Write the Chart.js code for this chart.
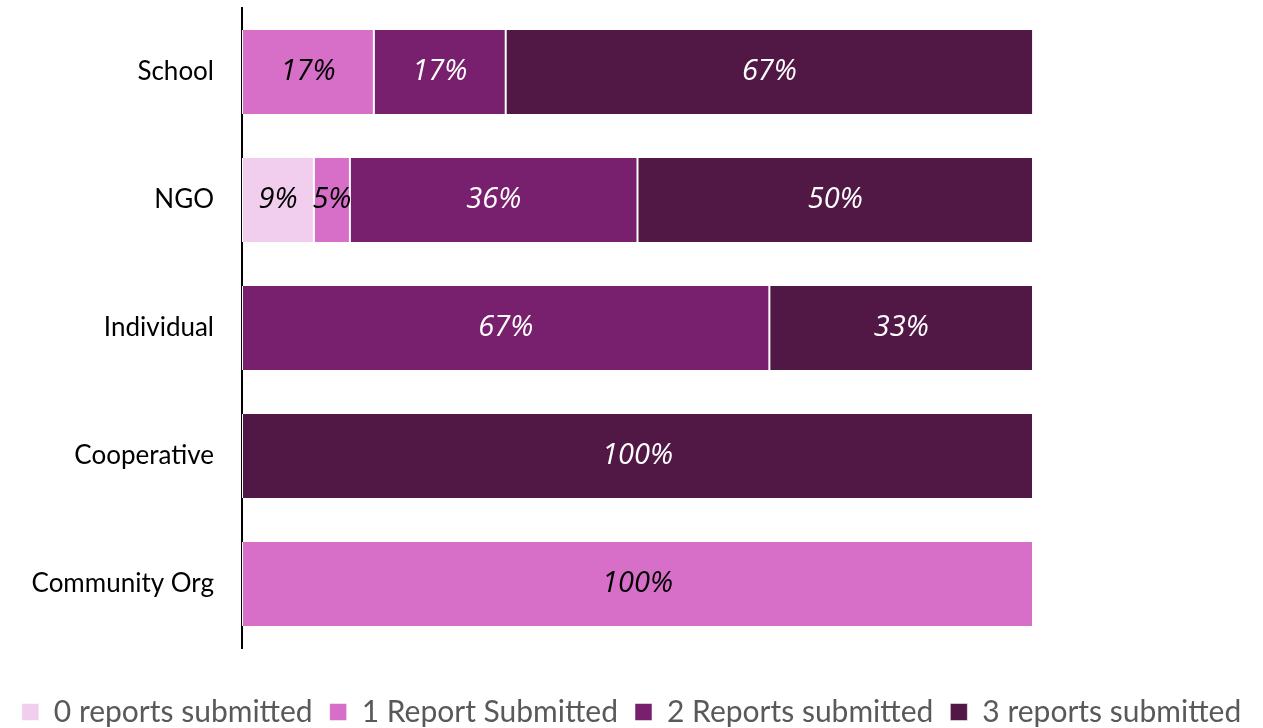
<!DOCTYPE html>
<html>
<head>
<meta charset="utf-8">
<script src="https://cdn.jsdelivr.net/npm/chart.js@4.4.1/dist/chart.umd.min.js"></script>
<style>
  html, body { margin: 0; padding: 0; background: #fff; }
  #wrap { width: 1263px; height: 728px; }
</style>
</head>
<body>
<div id="wrap"><canvas id="grafico"></canvas></div>
<script>
// Categorias e percentuais por número de relatórios enviados
const categorias = ['School', 'NGO', 'Individual', 'Cooperative', 'Community Org'];
const zeroRelatorios = [0, 9.09, 0, 0, 0];
const umRelatorio = [16.67, 4.55, 0, 0, 100];
const doisRelatorios = [16.67, 36.36, 66.67, 0, 0];
const tresRelatorios = [66.67, 50, 33.33, 100, 0];
const nomesSeries = ['0 reports submitted', '1 Report Submitted', '2 Reports submitted', '3 reports submitted'];

const cores = ['#f2ceee', '#d76fc9', '#78206d', '#511846'];
const corTexto = ['#000', '#000', '#fff', '#fff'];

// Plugin simples para escrever os percentuais dentro das barras
const rotulosPlugin = {
    id: 'rotulos',
    afterDatasetsDraw(chart) {
        const ctx = chart.ctx;
        ctx.save();
        ctx.font = 'italic 29px "Open Sans"';
        ctx.textAlign = 'center';
        ctx.textBaseline = 'middle';
        chart.data.datasets.forEach((ds, i) => {
            const meta = chart.getDatasetMeta(i);
            meta.data.forEach((bar, j) => {
                const v = ds.data[j];
                if (!v) return;
                ctx.fillStyle = corTexto[i];
                ctx.fillText(Math.round(v) + '%', (bar.x + bar.base) / 2, bar.y);
            });
        });
        ctx.restore();
    }
};

// Empurra a legenda um pouco para baixo, como no original
const legendaPlugin = {
    id: 'legendaBaixo',
    afterLayout(chart) {
        if (!chart.legend) return;
        chart.legend.top += 9;
        chart.legend.bottom += 9;
    }
};

const series = [zeroRelatorios, umRelatorio, doisRelatorios, tresRelatorios];

new Chart(document.getElementById('grafico'), {
    type: 'bar',
    data: {
        labels: categorias,
        datasets: series.map((s, i) => ({
            label: nomesSeries[i],
            data: s,
            backgroundColor: cores[i],
            borderColor: '#fff',
            borderWidth: { left: 1, right: 1 },
            borderSkipped: false,
            categoryPercentage: 0.655,
            barPercentage: 1
        }))
    },
    options: {
        indexAxis: 'y',
        responsive: true,
        maintainAspectRatio: false,
        animation: false,
        layout: { padding: { top: 8, right: 0, left: 0, bottom: 0 } },
        scales: {
            x: {
                stacked: true,
                min: 0,
                max: 100,
                grid: { display: false },
                border: { display: false },
                ticks: { display: false },
                afterFit(scale) {
                    scale.height = 23;
                    scale.paddingLeft = 0;
                    scale.paddingRight = 0;
                }
            },
            y: {
                stacked: true,
                grid: { display: false },
                border: { display: true, color: '#000', width: 2 },
                ticks: {
                    color: '#000',
                    font: { family: 'Lato', size: 26 },
                    padding: 20
                },
                afterFit(scale) {
                    scale.width = 242;
                    scale.paddingTop = 0;
                    scale.paddingBottom = 0;
                }
            },
            // eixo vazio só para reservar o espaço à direita
            yDireita: {
                position: 'right',
                grid: { display: false },
                border: { display: false },
                ticks: { display: false },
                afterFit(scale) {
                    scale.width = 230;
                    scale.paddingTop = 0;
                    scale.paddingBottom = 0;
                }
            }
        },
        plugins: {
            legend: {
                position: 'bottom',
                labels: {
                    color: '#595959',
                    font: { family: 'Lato', size: 30, lineHeight: 1 },
                    boxWidth: 17,
                    boxHeight: 17,
                    padding: 17
                }
            },
            tooltip: { enabled: false }
        }
    },
    plugins: [rotulosPlugin, legendaPlugin]
});
</script>
</body>
</html>
